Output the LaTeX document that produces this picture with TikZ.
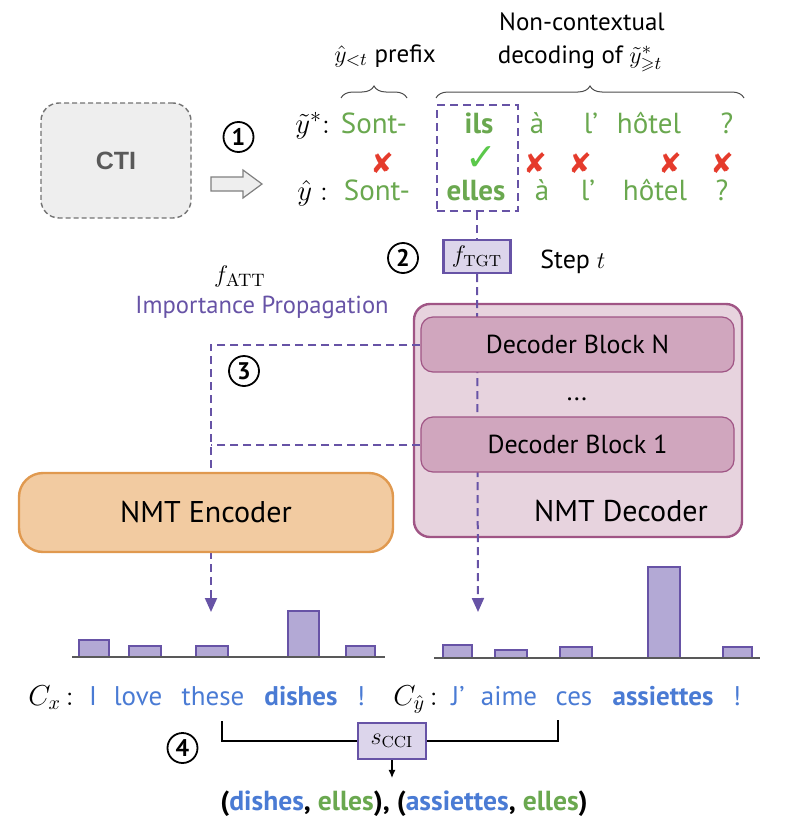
\documentclass[tikz,border=0pt]{standalone}
\usepackage{amsmath,amssymb}
\usepackage[no-math]{fontspec}
\setmainfont{PT Sans}
\newfontfamily\symfont{DejaVu Sans}
\newfontfamily\ctifont{Liberation Sans}
\usetikzlibrary{decorations.pathreplacing,arrows.meta,positioning}

\definecolor{tgreen}{HTML}{6AA84F}
\definecolor{tblue}{HTML}{4A7BD4}
\definecolor{ppurple}{HTML}{6753A6}
\definecolor{pfill}{HTML}{B3A9D5}
\definecolor{boxfill}{HTML}{DCD5EB}
\definecolor{decfill}{HTML}{E7D3DE}
\definecolor{blockfill}{HTML}{D0A6BE}
\definecolor{decline}{HTML}{A05585}
\definecolor{encfill}{HTML}{F2CBA1}
\definecolor{encline}{HTML}{E0994F}
\definecolor{xred}{HTML}{E53B2C}
\definecolor{cgreen}{HTML}{5BC84B}
\definecolor{ctifill}{HTML}{EEEEEE}
\definecolor{ctitext}{HTML}{595959}

\pgfdeclarelayer{bg}
\pgfdeclarelayer{mid}
\pgfsetlayers{bg,mid,main}

\tikzset{
  gword/.style={text=tgreen,font=\fontsize{14.5}{17}\selectfont,inner sep=0pt,anchor=base},
  bword/.style={text=tblue,font=\fontsize{13.5}{16}\selectfont,inner sep=0pt,anchor=base},
  num/.style={circle,draw,line width=0.9pt,minimum size=15pt,inner sep=0pt,
    font=\fontsize{12}{12}\selectfont\bfseries},
  pdash/.style={draw=ppurple,line width=1pt,dash pattern=on 4pt off 2.5pt},
  ptip/.style={-{Triangle[length=7pt,width=6pt]}},
  fbox/.style={draw=ppurple,line width=1.2pt,fill=boxfill,inner sep=0pt},
  xmark/.style={text=xred,font=\symfont\fontsize{14}{14}\selectfont,inner sep=0pt},
  block/.style={draw=decline,line width=0.6pt,fill=blockfill,rounded corners=6pt,
    minimum width=156.5pt,minimum height=27.5pt,font=\fontsize{13}{15}\selectfont},
  bar/.style={fill=pfill,draw=ppurple,line width=0.6pt},
  axisline/.style={draw=black!65,line width=0.6pt},
  brace/.style={decorate,decoration={brace,amplitude=6pt},draw=black!70,line width=0.5pt},
  label/.style={font=\fontsize{12.5}{15}\selectfont,inner sep=0pt,anchor=base}
}

\begin{document}
\begin{tikzpicture}[x=0.5pt,y=-0.5pt]
\useasboundingbox (0,0) rectangle (784,835);

% contrastive input
\node[draw=black!55,dash pattern=on 2.5pt off 1.5pt,line width=0.7pt,fill=ctifill,
  rounded corners=9pt,minimum width=75pt,minimum height=57.5pt,
  font=\ctifont\bfseries\fontsize{12.5}{14}\selectfont,text=ctitext] (cti) at (116,160.5) {CTI};
\draw[fill=ctifill,draw=black!50,line width=0.6pt]
  (211,177) -- (243,177) -- (243,170) -- (262,184) -- (243,198) -- (243,191) -- (211,191) -- cycle;
\node[num] (n1) at (238.5,137) {1};

% the two target sentences
\node[inner sep=0pt,anchor=base west,font=\fontsize{15}{17}\selectfont] (ystar) at (295,133) {$\tilde{y}^{*}{:}$};
\node[inner sep=0pt,anchor=base west,font=\fontsize{15}{17}\selectfont] (yhat) at (297,200) {$\hat{y}\;{:}$};

\node[gword] (star1) at (374,133) {Sont-};
\node[gword,font=\fontsize{14.5}{17}\selectfont\bfseries] (star2) at (479,133) {ils};
\node[gword] (star3) at (537,133) {à};
\node[gword] (star4) at (591,133) {l’};
\node[gword] (star5) at (649,133) {hôtel};
\node[gword] (star6) at (727,133) {?};

\node[gword] (hat1) at (377,200) {Sont-};
\node[gword,font=\fontsize{14.5}{17}\selectfont\bfseries] (hat2) at (476,200) {elles};
\node[gword] (hat3) at (542,200) {à};
\node[gword] (hat4) at (588,200) {l’};
\node[gword] (hat5) at (655,200) {hôtel};
\node[gword] (hat6) at (722,200) {?};

\foreach \xx [count=\i] in {382,535,580,670,722}
  \node[xmark] (cross\i) at (\xx,163) {✘};
\node[text=cgreen,font=\symfont\fontsize{19}{19}\selectfont,inner sep=0pt] (check) at (481,159) {✓};

% braces
\draw[brace] (341,98) -- (407,98);
\node[label] (prefix) at (385,62) {$\hat{y}_{<t}$ prefix};
\draw[brace] (436,98) -- (744,98);
\node[label] (noncon) at (582,30) {Non-contextual};
\node[label] (decof) at (580,63) {decoding of $\tilde{y}^{*}_{\geqslant t}$};

% selected token and target function
\node[draw=ppurple,line width=1pt,dash pattern=on 4pt off 2.5pt,
  minimum width=40.5pt,minimum height=53pt,inner sep=0pt] (sel) at (477,158) {};
\node[fbox,minimum width=33.5pt,minimum height=16.5pt,font=\fontsize{12}{14}\selectfont] (ftgt) at (477,256.5) {$f_{\mathrm{TGT}}$};
\draw[pdash] (sel.south) -- (ftgt.north);
\node[num] (n2) at (403,258) {2};
\node[anchor=base west,inner sep=0pt,font=\fontsize{13}{15}\selectfont] (stept) at (540,268) {Step $t$};

\node[anchor=base,inner sep=0pt,font=\fontsize{13}{15}\selectfont] (fatt) at (240,282) {$f_{\mathrm{ATT}}$};
\node[anchor=base,inner sep=0pt,text=ppurple,font=\fontsize{12.3}{15}\selectfont] (imp) at (262,313) {Importance Propagation};

% decoder
\begin{pgfonlayer}{bg}
\node[draw=decline,line width=1.2pt,fill=decfill,rounded corners=8pt,
  minimum width=164pt,minimum height=116.5pt] (dec) at (578,420.5) {};
\end{pgfonlayer}
\node[block] (blockN) at (577.5,344.5) {Decoder Block N};
\node[anchor=base,inner sep=0pt,font=\fontsize{13}{15}\selectfont] (dots) at (577,400) {...};
\node[block] (block1) at (577.5,444.5) {Decoder Block 1};
\node[anchor=base,inner sep=0pt,font=\fontsize{15}{18}\selectfont] (declabel) at (621,521) {NMT Decoder};

% encoder
\node[draw=encline,line width=1.2pt,fill=encfill,rounded corners=12pt,
  minimum width=187pt,minimum height=39.5pt,font=\fontsize{15}{18}\selectfont] (enc) at (206,512.5) {NMT Encoder};

% importance propagation
\coordinate (xtip) at (211,612);
\coordinate (ytip) at (478,612);
\begin{pgfonlayer}{mid}
\draw[pdash,ptip] (ftgt.south) -- (ytip);
\draw[pdash,ptip] (blockN.west) -| (xtip);
\draw[pdash] (block1.west) -- (block1.west -| xtip);
\end{pgfonlayer}
\node[num] (n3) at (244,371) {3};

% source contributions
\foreach \l/\r/\t in {79/109/640,129/161/646,196/228/646,288/319/611,346/375/646}
  \draw[bar] (\l,657) rectangle (\r,\t);
\draw[axisline] (72,657) -- (385,657);

% target contributions
\foreach \l/\r/\t in {443/472/645,495/527/650,560/592/647,648/680/567,723/752/647}
  \draw[bar] (\l,658) rectangle (\r,\t);
\draw[axisline] (434,658) -- (760,658);

% sentences
\node[inner sep=0pt,anchor=base west,font=\fontsize{14.5}{16}\selectfont] (cx) at (28,705) {$C_x\,{:}$};
\node[bword] (src1) at (93,705) {I};
\node[bword] (src2) at (138,705) {love};
\node[bword] (src3) at (213,705) {these};
\node[bword,font=\fontsize{13.5}{16}\selectfont\bfseries] (src4) at (301,705) {dishes};
\node[bword] (src5) at (361,705) {!};

\node[inner sep=0pt,anchor=base west,font=\fontsize{14.5}{16}\selectfont] (cy) at (393,705) {$C_{\hat{y}}\,{:}$};
\node[bword] (tgt1) at (458,705) {J’};
\node[bword] (tgt2) at (509,705) {aime};
\node[bword] (tgt3) at (574,705) {ces};
\node[bword,font=\fontsize{13.5}{16}\selectfont\bfseries] (tgt4) at (663,705) {assiettes};
\node[bword] (tgt5) at (737,705) {!};

% context-sensitive pairs
\node[fbox,minimum width=34pt,minimum height=18pt,font=\fontsize{12}{14}\selectfont] (scci) at (392,741) {$s_{\mathrm{CCI}}$};
\coordinate (srcpt) at (222,721);
\coordinate (tgtpt) at (558,720);
\draw[line width=0.6pt] (srcpt) |- (scci.west);
\draw[line width=0.6pt] (scci.east) -| (tgtpt);
\node[num] (n4) at (182.5,748) {4};

\node[anchor=base,inner sep=0pt,font=\fontsize{13.8}{16}\selectfont\bfseries] (pairs) at (404,810)
  {(\textcolor{tblue}{dishes}, \textcolor{tgreen}{elles}), (\textcolor{tblue}{assiettes}, \textcolor{tgreen}{elles})};
\draw[line width=0.6pt,-{Latex[length=4pt,width=3.5pt]},shorten >=6pt] (scci.south) -- (scci.south |- pairs.north);
\end{tikzpicture}
\end{document}
